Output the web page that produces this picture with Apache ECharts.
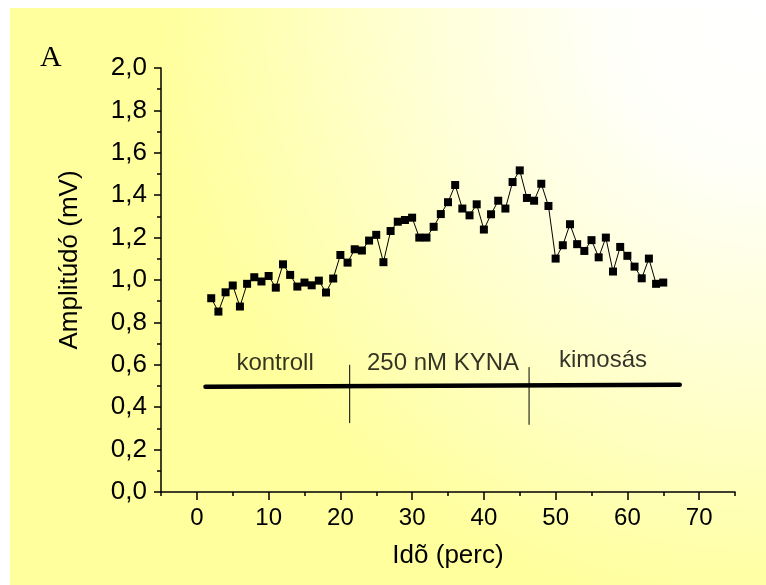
<!DOCTYPE html>
<html>
<head>
<meta charset="utf-8">
<script src="https://cdn.jsdelivr.net/npm/echarts@6/dist/echarts.min.js"></script>
<style>
  html, body { margin: 0; padding: 0; background: #fff; }
  #chart { width: 766px; height: 585px; }
</style>
</head>
<body>
<div id="chart"></div>
<script>
// measured amplitudes, one per minute
var times = [2, 3, 4, 5, 6, 7, 8, 9, 10, 11, 12, 13, 14, 15, 16, 17, 18, 19, 20, 21,
  22, 23, 24, 25, 26, 27, 28, 29, 30, 31, 32, 33, 34, 35, 36, 37, 38, 39, 40, 41,
  42, 43, 44, 45, 46, 47, 48, 49, 50, 51, 52, 53, 54, 55, 56, 57, 58, 59, 60, 61,
  62, 63, 64, 65];
var amplitudes = [0.914, 0.851, 0.942, 0.974, 0.875, 0.982, 1.013, 0.993, 1.019, 0.964,
  1.074, 1.024, 0.969, 0.988, 0.975, 0.997, 0.941, 1.007, 1.118, 1.082,
  1.145, 1.139, 1.186, 1.213, 1.084, 1.231, 1.275, 1.283, 1.294, 1.200,
  1.200, 1.251, 1.311, 1.367, 1.448, 1.337, 1.305, 1.357, 1.238, 1.310,
  1.374, 1.337, 1.462, 1.517, 1.387, 1.374, 1.454, 1.349, 1.101, 1.164,
  1.263, 1.169, 1.137, 1.188, 1.107, 1.200, 1.040, 1.156, 1.114, 1.063,
  1.008, 1.101, 0.982, 0.988];

// protocol bar and phase markers
var phaseBar = [[1.2, 0.496], [67.3, 0.506]];
var phaseCut1 = [[21.3, 0.60], [21.3, 0.325]];
var phaseCut2 = [[46.3, 0.589], [46.3, 0.317]];
var phaseNames = ['kontroll', '250 nM KYNA', 'kimosás'];
var phaseLabelPos = [[10.9, 0.609], [34.3, 0.609], [56.6, 0.619]];

var xMajor = [0, 10, 20, 30, 40, 50, 60, 70];
var xMinor = [-5, 5, 15, 25, 35, 45, 55, 65, 75];

var pts = [];
for (var i = 0; i < times.length; i++) {
  pts.push([times[i], amplitudes[i]]);
}
var labelData = [];
for (var j = 0; j < phaseNames.length; j++) {
  labelData.push({ name: phaseNames[j], value: phaseLabelPos[j] });
}

var font = 'Liberation Sans, Arial, sans-serif';
var chart = echarts.init(document.getElementById('chart'));

var option = {
  animation: false,
  graphic: [
    {
      type: 'rect', z: -10, silent: true,
      shape: { x: 10, y: 8, width: 756, height: 577 },
      style: {
        fill: new echarts.graphic.RadialGradient(1, 0, 1.05, [
          { offset: 0, color: '#ffffff' },
          { offset: 0.25, color: '#fffffa' },
          { offset: 0.6, color: '#ffffd2' },
          { offset: 1, color: '#ffff9e' }
        ])
      }
    },
    {
      type: 'text', left: 40, top: 43,
      style: { text: 'A', font: '30px "Liberation Serif", "Times New Roman", serif', fill: '#000' }
    },
    {
      type: 'text', x: 70, y: 260, rotation: Math.PI / 2,
      style: {
        text: 'Amplitúdó (mV)', font: '26px ' + font, fill: '#000',
        align: 'center', verticalAlign: 'middle'
      }
    }
  ],
  grid: { left: 161, right: 31, top: 68, bottom: 93 },
  xAxis: [
    {
      type: 'value', min: -5, max: 75,
      name: 'Idõ (perc)', nameLocation: 'middle', nameGap: 51,
      nameTextStyle: { fontFamily: font, fontSize: 26, color: '#000' },
      axisLine: { onZero: false, lineStyle: { color: '#000', width: 1.5 } },
      axisTick: { customValues: xMajor, length: 8, lineStyle: { color: '#000', width: 1.5 } },
      axisLabel: { customValues: xMajor, margin: 14, fontFamily: font, fontSize: 24, color: '#000' },
      splitLine: { show: false }
    },
    {
      type: 'value', min: -5, max: 75, position: 'bottom',
      axisLine: { show: false },
      axisTick: { customValues: xMinor, length: 4, lineStyle: { color: '#000', width: 1.5 } },
      axisLabel: { show: false },
      splitLine: { show: false }
    }
  ],
  yAxis: {
    type: 'value', min: 0, max: 2, interval: 0.2,
    axisLine: { show: true, onZero: false, lineStyle: { color: '#000', width: 1.5 } },
    axisTick: { show: true, length: 7, lineStyle: { color: '#000', width: 1.5 } },
    minorTick: { show: true, splitNumber: 2, length: 4, lineStyle: { color: '#000', width: 1.5 } },
    axisLabel: {
      margin: 14, fontFamily: font, fontSize: 26, color: '#000',
      formatter: function (v) { return v.toFixed(1).replace('.', ','); }
    },
    splitLine: { show: false }
  },
  series: [
    {
      type: 'line', data: pts,
      symbol: 'rect', symbolSize: 8, showAllSymbol: true,
      itemStyle: { color: '#000' },
      lineStyle: { color: '#000', width: 1 }
    },
    {
      type: 'line', data: phaseBar, symbol: 'none',
      lineStyle: { color: '#000', width: 4.5, cap: 'round' }
    },
    {
      type: 'line', data: phaseCut1, symbol: 'none',
      lineStyle: { color: '#000', width: 1 }
    },
    {
      type: 'line', data: phaseCut2, symbol: 'none',
      lineStyle: { color: '#000', width: 1 }
    },
    {
      type: 'scatter', data: labelData, symbolSize: 0, silent: true,
      label: {
        show: true, position: [0, 0], align: 'center', verticalAlign: 'middle',
        formatter: '{b}', fontFamily: font, fontSize: 24, color: '#000'
      }
    }
  ]
};
chart.setOption(option);
</script>
</body>
</html>
